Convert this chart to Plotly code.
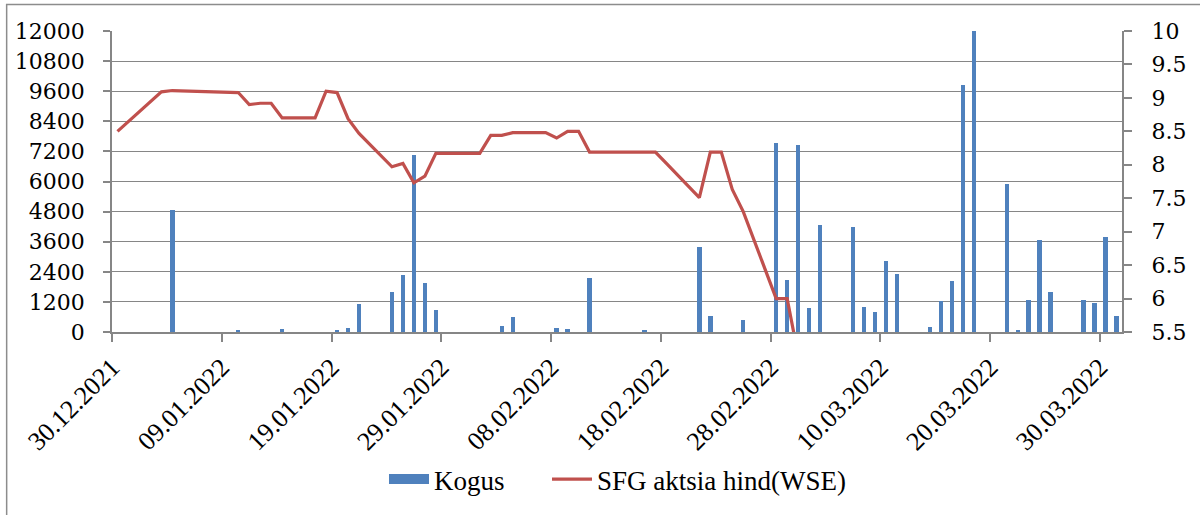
import plotly.graph_objects as go

# ---- data ----
bar_dates = ["2022-01-04", "2022-01-10", "2022-01-14", "2022-01-19", "2022-01-20", "2022-01-21",
             "2022-01-24", "2022-01-25", "2022-01-26", "2022-01-27", "2022-01-28",
             "2022-02-03", "2022-02-04", "2022-02-08", "2022-02-09", "2022-02-11", "2022-02-16",
             "2022-02-21", "2022-02-22", "2022-02-25", "2022-02-28",
             "2022-03-01", "2022-03-02", "2022-03-03", "2022-03-04", "2022-03-07", "2022-03-08",
             "2022-03-09", "2022-03-10", "2022-03-11", "2022-03-14", "2022-03-15", "2022-03-16",
             "2022-03-17", "2022-03-18", "2022-03-21", "2022-03-22", "2022-03-23", "2022-03-24",
             "2022-03-25", "2022-03-28", "2022-03-29", "2022-03-30", "2022-03-31"]
kogus = [4880, 60, 120, 80, 140, 1100,
         1610, 2290, 7060, 1950, 880,
         225, 600, 165, 125, 2140, 80,
         3370, 650, 490, 7550,
         2070, 7450, 960, 4280, 4180, 1000,
         780, 2850, 2310, 210, 1220, 2040,
         9840, 12000, 5910, 60, 1290, 3670,
         1580, 1290, 1160, 3800, 650]

price_dates = ["2021-12-30", "2022-01-03", "2022-01-04", "2022-01-05", "2022-01-07", "2022-01-10",
               "2022-01-11", "2022-01-12", "2022-01-13", "2022-01-14", "2022-01-17", "2022-01-18",
               "2022-01-19", "2022-01-20", "2022-01-21", "2022-01-24", "2022-01-25", "2022-01-26",
               "2022-01-27", "2022-01-28", "2022-01-31", "2022-02-01", "2022-02-02", "2022-02-03",
               "2022-02-04", "2022-02-07", "2022-02-08", "2022-02-09", "2022-02-10", "2022-02-11",
               "2022-02-14", "2022-02-15", "2022-02-16", "2022-02-17", "2022-02-18", "2022-02-21",
               "2022-02-22", "2022-02-23", "2022-02-24", "2022-02-25", "2022-02-28", "2022-03-01",
               "2022-03-02"]
price = [8.50, 9.09, 9.11, 9.105, 9.095, 9.08,
         8.90, 8.92, 8.92, 8.70, 8.70, 9.10,
         9.08, 8.69, 8.47, 7.97, 8.02, 7.73,
         7.83, 8.17, 8.17, 8.17, 8.44, 8.44,
         8.48, 8.48, 8.40, 8.50, 8.50, 8.19,
         8.19, 8.19, 8.19, 8.19, 8.02, 7.51,
         8.19, 8.19, 7.63, 7.30, 6.00, 6.00,
         5.15]

x_tick_dates = ["2021-12-30", "2022-01-09", "2022-01-19", "2022-01-29", "2022-02-08",
                "2022-02-18", "2022-02-28", "2022-03-10", "2022-03-20", "2022-03-30"]
x_tick_labels = ["30.12.2021", "09.01.2022", "19.01.2022", "29.01.2022", "08.02.2022",
                 "18.02.2022", "28.02.2022", "10.03.2022", "20.03.2022", "30.03.2022"]

DAY = 86400000
GRID = "#868686"
BLUE = "#4F81BD"
RED = "#C0504D"
SERIF_NUM = "DejaVu Serif"
SERIF_TXT = "Liberation Serif"
LEG_FONT = dict(family=SERIF_TXT, size=27, color="black")
PRICE_RANGE = [5.5, 10]

fig = go.Figure()
fig.add_trace(go.Bar(
    x=bar_dates, y=kogus, name="Kogus", showlegend=False,
    xperiod=DAY, xperiodalignment="middle",
    width=0.4 * DAY,
    marker=dict(color=BLUE, line=dict(width=0)),
))
# legend entry for the bars (wide rectangle swatch)
fig.add_trace(go.Scatter(
    x=[None], y=[None], name="Kogus", mode="lines",
    line=dict(color=BLUE, width=12), legend="legend",
))
fig.add_trace(go.Scatter(
    x=price_dates, y=price, name="SFG aktsia hind(WSE)",
    xperiod=DAY, xperiodalignment="middle",
    mode="lines", line=dict(color=RED, width=3.2),
    yaxis="y2", legend="legend2",
))
# empty trace that carries the right-hand tick labels axis
fig.add_trace(go.Scatter(x=[None], y=[None], yaxis="y3", showlegend=False,
                         hoverinfo="skip", mode="lines"))

fig.update_layout(
    width=1200, height=515,
    margin=dict(l=112, r=78, t=31, b=183, autoexpand=False),
    paper_bgcolor="white", plot_bgcolor="white",
    showlegend=True,
    legend=dict(orientation="h", x=0.2693, xanchor="left", y=-0.49, yanchor="middle",
                font=LEG_FONT, itemwidth=40),
    legend2=dict(orientation="h", x=0.4307, xanchor="left", y=-0.49, yanchor="middle",
                 font=LEG_FONT, itemwidth=40),
    bargap=0,
    xaxis=dict(
        type="date", range=["2021-12-30", "2022-04-01"],
        tickmode="array", tickvals=x_tick_dates, ticktext=x_tick_labels,
        tickangle=-45, ticks="outside", ticklen=8, tickcolor=GRID, tickwidth=1.5,
        showline=True, linecolor=GRID, linewidth=1.5, showgrid=False, zeroline=False,
        tickfont=dict(family=SERIF_TXT, size=26, color="black"),
        automargin=False,
    ),
    yaxis=dict(
        range=[0, 12000], dtick=1200, tick0=0, tickformat="d",
        ticks="outside", ticklen=7, tickcolor=GRID, tickwidth=1.5,
        showline=True, linecolor=GRID, linewidth=1.5,
        showgrid=True, gridcolor=GRID, gridwidth=1.4, zeroline=False,
        tickfont=dict(family=SERIF_NUM, size=22, color="black"),
        ticklabelstandoff=14, automargin=False,
    ),
    yaxis2=dict(
        overlaying="y", side="right", range=PRICE_RANGE, dtick=0.5, tick0=5.5,
        ticks="outside", ticklen=8, tickcolor=GRID, tickwidth=1.5,
        showline=True, linecolor=GRID, linewidth=1.5, showgrid=False, zeroline=False,
        showticklabels=False, automargin=False,
    ),
    yaxis3=dict(
        overlaying="y", side="right", range=PRICE_RANGE, dtick=0.5, tick0=5.5,
        ticks="outside", ticklen=24, tickcolor="rgba(0,0,0,0)",
        showline=False, showgrid=False, zeroline=False,
        tickfont=dict(family=SERIF_NUM, size=22, color="black"),
        automargin=False,
    ),
    shapes=[dict(type="rect", xref="paper", yref="paper",
                 x0=-0.1043, x1=1.2, y0=-0.7, y1=1.088,
                 line=dict(color="#8c8c8c", width=1.5), fillcolor="rgba(0,0,0,0)", layer="below")],
)

fig.write_html("out.html", config={"displayModeBar": False},
               post_script="document.body.style.margin='0';document.body.style.overflow='hidden';")
